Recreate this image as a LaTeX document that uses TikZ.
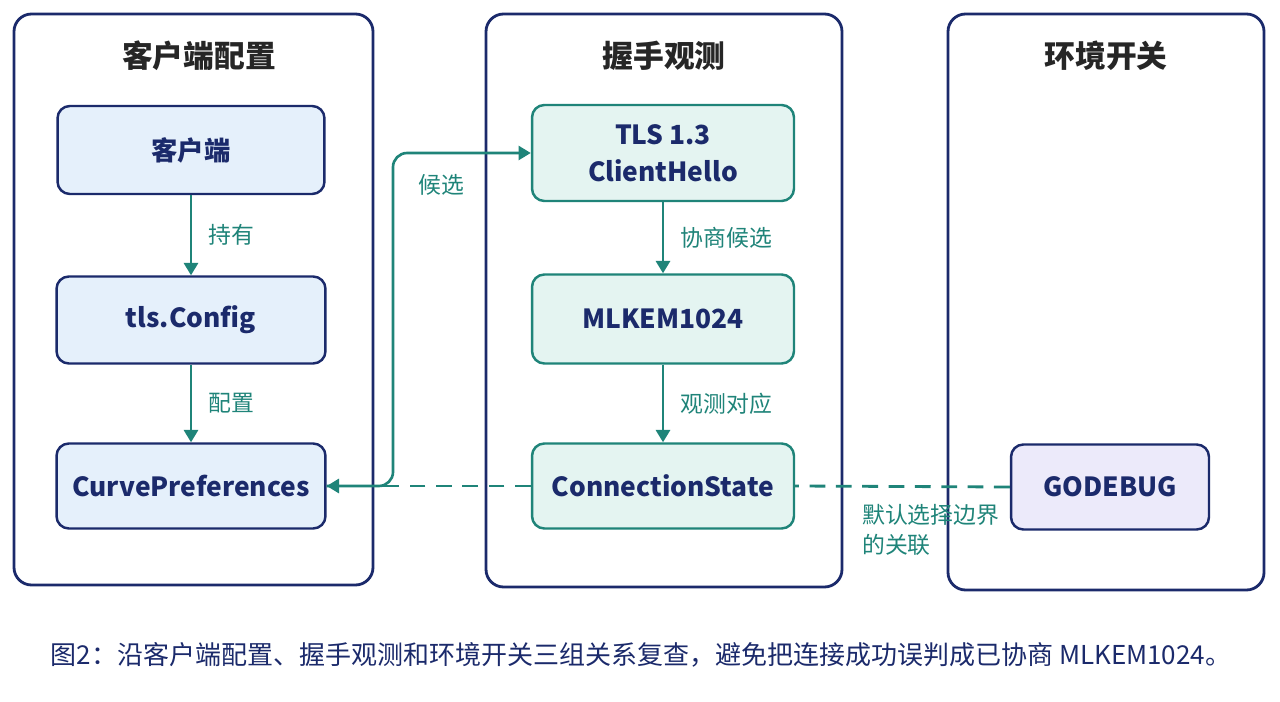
\documentclass[tikz,border=0pt]{standalone}
\usepackage{fontspec}
\setmainfont{Noto Sans CJK SC}
\usepackage{tikz}
\usetikzlibrary{arrows.meta}
\definecolor{navy}{HTML}{1B2A6B}
\definecolor{teal}{HTML}{1F8479}
\definecolor{bluefill}{HTML}{E5F0FB}
\definecolor{tealfill}{HTML}{E4F4F1}
\definecolor{lilac}{HTML}{ECEAFA}
\tikzset{
  panel/.style={draw=navy, line width=1.6pt, rounded corners=10pt, fill=white},
  ptitle/.style={font=\fontsize{17.5}{20}\selectfont\bfseries, text=black!85},
  cbox/.style={draw=navy, line width=1.4pt, rounded corners=7pt, fill=bluefill, text=navy,
    font=\fontsize{15}{21}\selectfont\bfseries, align=center},
  hbox/.style={cbox, draw=teal, fill=tealfill},
  gbox/.style={cbox, fill=lilac},
  flow/.style={draw=teal, line width=1.5pt, -{Triangle[length=7pt,width=8pt]}},
  lbl/.style={text=teal, font=\fontsize{13}{17}\selectfont},
  dashy/.style={dash pattern=on 9pt off 6pt}
}
\begin{document}
\begin{tikzpicture}[x=0.02cm, y=-0.02cm]
  \useasboundingbox (0,0) rectangle (1280,702);
  % panels
  \draw[panel] (14,14) rectangle (373,585);
  \draw[panel] (486,14) rectangle (842,587);
  \draw[panel] (948,14) rectangle (1264,590);
  \node[ptitle] (t1) at (199,56) {客户端配置};
  \node[ptitle] (t2) at (664,56) {握手观测};
  \node[ptitle] (t3) at (1106,56) {环境开关};

  % client column
  \node[cbox, minimum width=5.34cm, minimum height=1.76cm] (client) at (191,150) {客户端};
  \node[cbox, minimum width=5.38cm, minimum height=1.74cm] (config) at (191,320) {tls.Config};
  \node[cbox, minimum width=5.38cm, minimum height=1.70cm] (curves) at (191,486) {CurvePreferences};

  % handshake column
  \node[hbox, minimum width=5.24cm, minimum height=1.92cm] (hello) at (663,153) {TLS 1.3\\ClientHello};
  \node[hbox, minimum width=5.24cm, minimum height=1.78cm] (mlkem) at (663,319) {MLKEM1024};
  \node[hbox, minimum width=5.24cm, minimum height=1.70cm] (connstate) at (663,486) {ConnectionState};

  % switch column
  \node[gbox, minimum width=3.96cm, minimum height=1.70cm] (godebug) at (1110,487) {GODEBUG};

  \draw[flow] (client) -- node[lbl, right=6pt] {持有} (config);
  \draw[flow] (config) -- node[lbl, right=6pt] {配置} (curves);
  \draw[flow] (hello) -- node[lbl, right=6pt] {协商候选} (mlkem);
  \draw[flow] (mlkem) -- node[lbl, right=6pt] {观测对应} (connstate);
  \draw[flow, rounded corners=8pt] (curves.east) -- (393,486) -- (393,153)
    -- node[lbl, pos=0.35, below=8pt] {候选} (hello.west);

  \draw[teal, line width=1.6pt, dashy] (godebug.west) -- (connstate.east);
  \draw[flow, dashy, line width=1.6pt] (connstate.west) -- (curves.east);
  \node[lbl, anchor=north west, align=left] (assoc) at (856,498) {默认选择边界\\的关联};

  \node[font=\fontsize{14.8}{17}\selectfont, text=navy] (caption) at (641,655)
    {图2：沿客户端配置、握手观测和环境开关三组关系复查，避免把连接成功误判成已协商 MLKEM1024。};
\end{tikzpicture}
\end{document}
